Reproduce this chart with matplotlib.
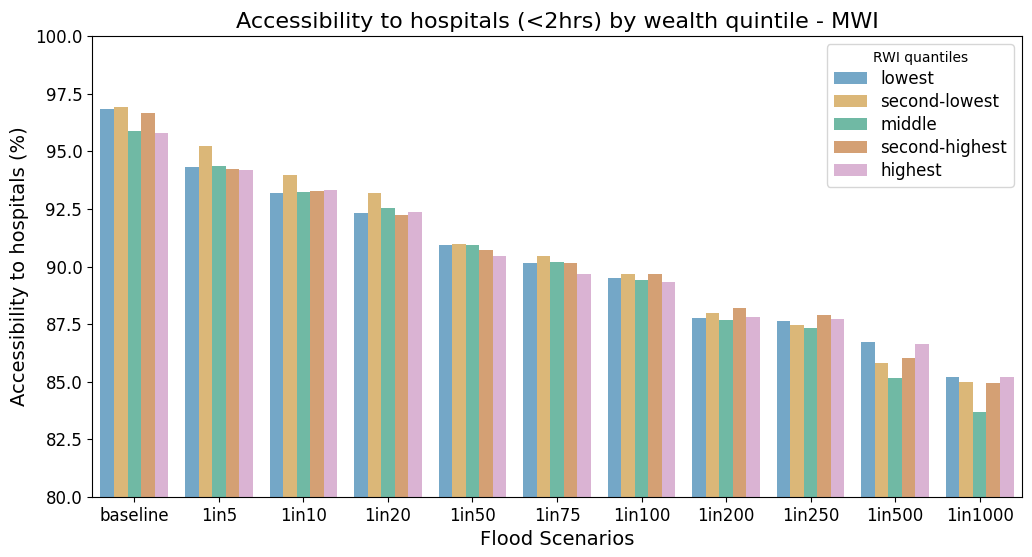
import matplotlib
matplotlib.use("Agg")
import matplotlib.pyplot as plt
import numpy as np

scenarios = ["baseline", "1in5", "1in10", "1in20", "1in50", "1in75", "1in100",
             "1in200", "1in250", "1in500", "1in1000"]
quantiles = ["lowest", "second-lowest", "middle", "second-highest", "highest"]

lowest = [96.82, 94.30, 93.18, 92.31, 90.92, 90.14, 89.49, 87.75, 87.62, 86.71, 85.19]
second_lowest = [96.91, 95.21, 93.96, 93.18, 90.96, 90.44, 89.66, 87.97, 87.45, 85.80, 84.98]
middle = [95.87, 94.35, 93.22, 92.52, 90.92, 90.18, 89.40, 87.67, 87.32, 85.16, 83.68]
second_highest = [96.65, 94.22, 93.26, 92.22, 90.70, 90.14, 89.66, 88.19, 87.89, 86.02, 84.94]
highest = [95.78, 94.17, 93.31, 92.35, 90.44, 89.66, 89.31, 87.80, 87.71, 86.62, 85.19]

series = [lowest, second_lowest, middle, second_highest, highest]
colors = ["#74a7c7", "#dbb778", "#70b9a4", "#d4a074", "#dab3d3"]

fig = plt.figure(figsize=(10.32, 5.57), dpi=100)
ax = fig.add_axes([92/1032, 1 - 497/557, 930/1032, 461/557])

x = np.arange(len(scenarios))
n = len(series)
w = 0.8 / n
for i, (vals, c, lab) in enumerate(zip(series, colors, quantiles)):
    ax.bar(x - 0.4 + w * (i + 0.5), vals, width=w, color=c, label=lab, linewidth=0)

ax.set_xlim(-0.5, len(scenarios) - 0.5)
ax.set_ylim(80, 100)
ax.set_yticks(np.arange(80, 100.1, 2.5))
ax.set_xticks(x)
ax.set_xticklabels(scenarios)
ax.tick_params(labelsize=12)
ax.set_xlabel("Flood Scenarios", fontsize=14)
ax.set_ylabel("Accessibility to hospitals (%)", fontsize=14)
ax.set_title("Accessibility to hospitals (<2hrs) by wealth quintile - MWI", fontsize=16)
ax.legend(title="RWI quantiles", fontsize=12, title_fontsize=10, loc="upper right",
          labelspacing=0.3)

fig.savefig("out.png", dpi=100)
